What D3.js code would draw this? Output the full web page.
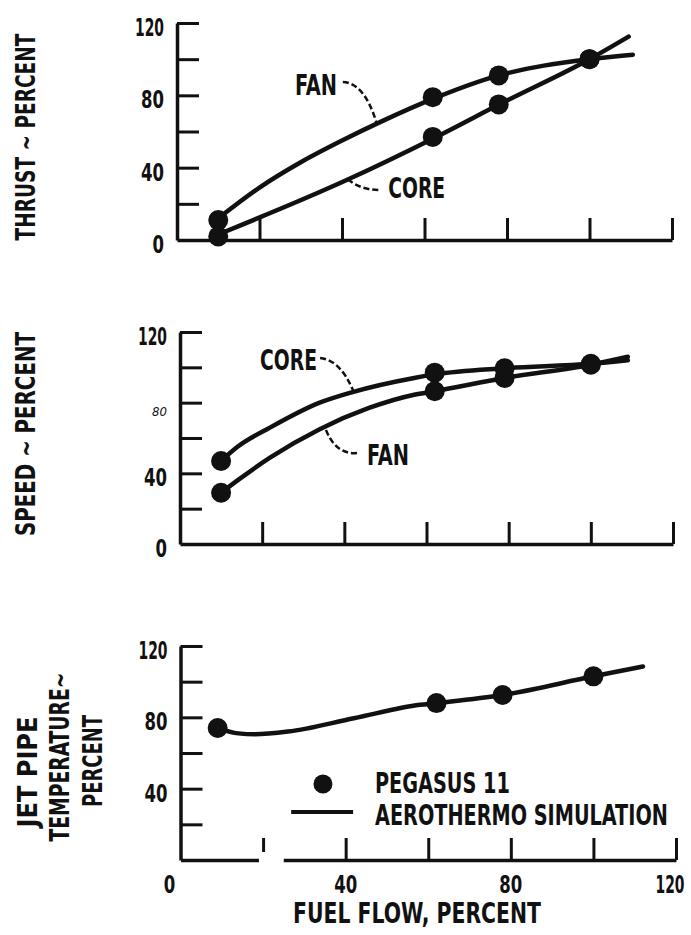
<!DOCTYPE html>
<html>
<head>
<meta charset="utf-8">
<script src="https://cdn.jsdelivr.net/npm/d3@7"></script>
<style>
  body { margin: 0; background: #fff; }
  text { font-family: "Liberation Sans Narrow", "Arial Narrow", "DejaVu Sans Condensed", sans-serif; font-weight: bold; fill: #111; }
  .axis .domain { stroke: #111; stroke-width: 3.5; }
  .axis .tick line { stroke: #111; stroke-width: 3; }
</style>
</head>
<body>
<script>
// tick values (percent)
var xTicks = [20, 40, 60, 80, 100, 120];
var yTicks = [20, 40, 60, 80, 100, 120];
var yLabels = [0, 40, 80, 120];
var xLabels = [0, 40, 80, 120];

// thrust vs fuel flow: test points (Pegasus 11) and simulation curves
var thrustFanTest = [[10, 11], [62, 79], [78, 91], [100, 100]];
var thrustCoreTest = [[10, 2], [62, 57], [78, 75], [100, 100]];
var thrustFanSim = [[10, 12], [20, 29], [30, 43], [40, 55], [50, 66], [62, 78], [78, 91], [100, 100], [110.5, 102.5]];
var thrustCoreSim = [[11, 4], [41, 33], [62, 56], [79, 76], [100, 100], [109.5, 112.5]];

// speed vs fuel flow
var speedCoreTest = [[10, 47], [62, 97], [79, 99.5], [100, 102]];
var speedFanTest = [[10, 29], [62, 86.5], [79, 94], [100, 101.5]];
var speedCoreSim = [[10, 47], [14, 55], [22, 66], [34, 80], [42, 86], [57, 94], [62, 96], [79, 99.5], [100, 102], [109, 104]];
var speedFanSim = [[10, 29], [14, 36], [22, 49], [34, 65], [46, 77], [57, 84.5], [62, 86.5], [79, 94], [100, 101.5], [109, 106]];

// jet pipe temperature vs fuel flow
var tempTest = [[9, 74], [62, 88], [78, 92.5], [100, 103]];
var tempSim = [[9, 74], [14, 71], [18, 70.5], [26, 72], [42, 79.5], [58, 87], [62, 88], [78, 92.5], [100, 103], [112, 108.5]];

// panel layout (pixels)
var panels = [
    { left: 177, right: 672, top: 23, bottom: 240, yLabels: yLabels,
      titles: [{ text: "THRUST ~ PERCENT", cx: 26, cy: 137, len: 207 }],
      test: [thrustFanTest, thrustCoreTest], sim: [thrustFanSim, thrustCoreSim],
      notes: [
        { text: "FAN", x: 28.6, y: 80.2, len: 42, lead: [[40.2, 87.4], [45.5, 86.8], [48.4, 64.5]] },
        { text: "CORE", x: 51.2, y: 23.2, len: 57, lead: [[48.8, 27.7], [44.4, 27.7], [41.1, 34.1]] }
      ] },
    { left: 180, right: 673, top: 332, bottom: 544, yLabels: yLabels,
      titles: [{ text: "SPEED ~ PERCENT", cx: 26, cy: 434, len: 204 }],
      test: [speedCoreTest, speedFanTest], sim: [speedCoreSim, speedFanSim],
      notes: [
        { text: "CORE", x: 19.5, y: 98.5, len: 57, lead: [[34.1, 105.3], [39.0, 104.1], [42.1, 87]] },
        { text: "FAN", x: 45.5, y: 44.7, len: 42, lead: [[43.1, 51.5], [37.7, 50.4], [35.3, 66]] }
      ] },
    { left: 180.5, right: 676, top: 646, bottom: 860, yLabels: yLabels.slice(1),
      titles: [{ text: "JET PIPE", cx: 27.5, cy: 772, len: 111 },
               { text: "TEMPERATURE~", cx: 60, cy: 757, len: 169 },
               { text: "PERCENT", cx: 92.5, cy: 761, len: 92 }],
      test: [tempTest], sim: [tempSim], notes: [] }
];

var svg = d3.select("body").append("svg")
    .attr("width", 691)
    .attr("height", 935)
    .style("background", "#fff");

// narrow digits like the original lettering
function digitLen(d) { return String(d).length == 3 ? 29 : String(d).length * 11.5; }

// text squeezed horizontally to a given length (condensed lettering)
function label(str, x, y, size, anchor, len, angle) {
    var t = svg.append("text")
        .attr("text-anchor", anchor)
        .style("font-size", size + "px")
        .text(str);
    var sx = len ? len / t.node().getComputedTextLength() : 1;
    t.attr("transform", "translate(" + x + "," + y + ")" + (angle ? " rotate(" + angle + ")" : "") + " scale(" + sx + ",1)");
    return t;
}

panels.forEach(function (p, i) {
    var x = d3.scaleLinear().domain([0, 120]).range([p.left, p.right]);
    var y = d3.scaleLinear().domain([0, 120]).range([p.bottom, p.top]);
    p.x = x; p.y = y;

    // axes with inward ticks
    svg.append("g")
        .attr("class", "axis")
        .attr("transform", "translate(" + p.left + ",0)")
        .call(d3.axisLeft(y).tickValues(yTicks).tickSizeInner(-22).tickSizeOuter(0).tickFormat(""));
    svg.append("g")
        .attr("class", "axis")
        .attr("transform", "translate(0," + p.bottom + ")")
        .call(d3.axisBottom(x).tickValues(xTicks).tickSizeInner(-22).tickSizeOuter(0).tickFormat(""));

    // y tick labels (the middle "80" is a faint smudge in the scan)
    p.yLabels.forEach(function (d) {
        if (i == 1 && d == 80) {
            label(d, p.left - 13, y(d) + 13, 13, "end", 0)
                .style("font-style", "italic")
                .style("font-weight", "normal");
        } else {
            label(d, p.left - 13, y(d) + 13, 25, "end", digitLen(d));
        }
    });

    // axis titles, rotated
    p.titles.forEach(function (t) {
        label(t.text, t.cx, t.cy, 26, "middle", t.len, -90)
            .attr("dy", "0.36em");
    });

    // simulation curves
    var line = d3.line()
        .x(function (d) { return x(d[0]); })
        .y(function (d) { return y(d[1]); })
        .curve(d3.curveMonotoneX);
    p.sim.forEach(function (s) {
        svg.append("path")
            .datum(s)
            .attr("d", line)
            .attr("fill", "none")
            .attr("stroke", "#111")
            .attr("stroke-width", 4.5)
            .attr("stroke-linecap", "round");
    });

    // test points
    p.test.forEach(function (s) {
        svg.selectAll(null)
            .data(s)
            .enter().append("circle")
            .attr("cx", function (d) { return x(d[0]); })
            .attr("cy", function (d) { return y(d[1]); })
            .attr("r", 10)
            .attr("fill", "#111");
    });

    // curve labels with dashed leaders
    p.notes.forEach(function (n) {
        label(n.text, x(n.x), y(n.y), 28, "start", n.len);
        var path = d3.path();
        path.moveTo(x(n.lead[0][0]), y(n.lead[0][1]));
        path.quadraticCurveTo(x(n.lead[1][0]), y(n.lead[1][1]), x(n.lead[2][0]), y(n.lead[2][1]));
        svg.append("path")
            .attr("d", path.toString())
            .attr("fill", "none")
            .attr("stroke", "#111")
            .attr("stroke-width", 2.5)
            .attr("stroke-dasharray", "6,3");
    });
});

// bottom panel: x labels, gap in the axis, legend, title
var pb = panels[2];

svg.append("rect")
    .attr("x", pb.x(19))
    .attr("y", pb.bottom - 8)
    .attr("width", pb.x(25) - pb.x(19))
    .attr("height", 14)
    .attr("fill", "#fff");

xLabels.forEach(function (d) {
    label(d, pb.x(d) + (d == 0 ? -11 : d == 120 ? -6 : 0), pb.bottom + 33, 25, "middle", digitLen(d));
});

label("FUEL FLOW, PERCENT", 417, 923, 28, "middle", 248);

// legend
svg.append("circle")
    .attr("cx", pb.x(34.5))
    .attr("cy", pb.y(42.6))
    .attr("r", 9.5)
    .attr("fill", "#111");
svg.append("line")
    .attr("x1", pb.x(26.8))
    .attr("x2", pb.x(41.8))
    .attr("y1", pb.y(26.9))
    .attr("y2", pb.y(26.9))
    .attr("stroke", "#111")
    .attr("stroke-width", 4);
label("PEGASUS 11", pb.x(47.1), pb.y(37.6), 29, "start", 135);
label("AEROTHERMO SIMULATION", pb.x(47.1), pb.y(19.6), 29, "start", 293);
</script>
</body>
</html>
